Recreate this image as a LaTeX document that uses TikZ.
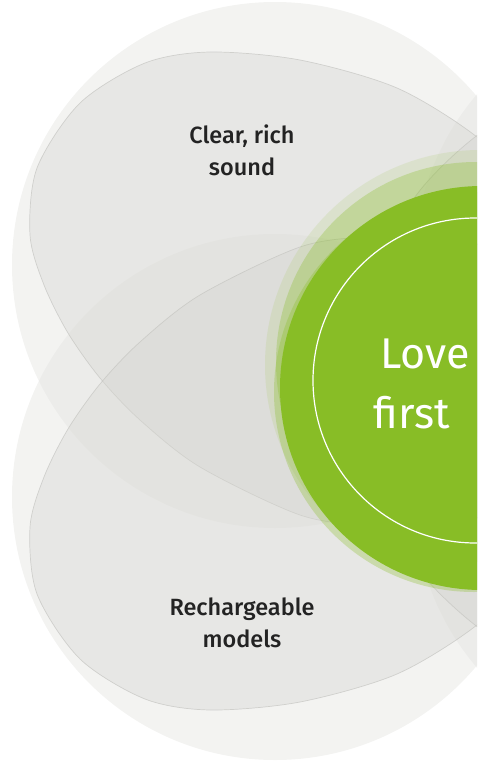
\documentclass[tikz,border=0pt]{standalone}
\usepackage{fontspec}
\setmainfont{Fira Sans}[BoldFont={Fira Sans Medium}]
\definecolor{halogrey}{RGB}{228,228,225}
\definecolor{petalgrey}{RGB}{214,214,210}
\definecolor{rimgrey}{RGB}{196,196,192}
\definecolor{leaf}{RGB}{136,189,38}
\definecolor{inkgrey}{RGB}{35,35,35}
\tikzset{
    % faint discs behind everything
    halo/.style={
        fill=halogrey,
        fill opacity=0.45,
        draw=none,
    },
    % leaf shaped petals
    petal/.style={
        fill=petalgrey,
        fill opacity=0.4,
        draw=rimgrey,
        draw opacity=0.7,
        line width=0.7pt,
    },
    % soft green discs round the hub
    glow/.style={
        fill=leaf,
        fill opacity=0.3,
        draw=none,
    },
    core/.style={
        fill=leaf,
        draw=none,
    },
    ring/.style={
        draw=white,
        line width=1.2pt,
    },
    petaltext/.style={
        text=inkgrey,
        font=\bfseries\fontsize{23.5}{32}\selectfont,
        align=center,
    },
    hubtext/.style={
        text=white,
        font=\fontsize{43}{60}\selectfont,
        anchor=base west,
    },
}
% outline of the upper left petal, tip under the hub
\newcommand{\petaloutline}{plot[smooth cycle] coordinates {
    (210,52) (300,60) (397,88) (477,137) (537,197) (578,280) (598,370)
    (595,450) (545,500) (450,522) (370,525) (300,515) (200,467) (140,420)
    (100,378) (68,333) (44,285) (30,235) (37,168) (80,103) (145,63)}}

\begin{document}
\begin{tikzpicture}[x=1pt, y=-1pt]
\useasboundingbox (0,0) rectangle (477,763);
\clip (0,0) rectangle (477,763);
% Define the hub
\coordinate (hub) at (476,381);
%HALO_BEGIN%
    \foreach \cx/\cy in {275/265, 275/497, 677/265, 677/497}
        \path[halo] (\cx,\cy) circle[radius=263pt];
%HALO_END%
%PETAL_BEGIN%
    % upper left
    \begin{scope}
        \path[petal] \petaloutline;
    \end{scope}
    % lower left
    \begin{scope}[shift={(0,762)}, yscale=-1]
        \path[petal] \petaloutline;
    \end{scope}
    % upper right
    \begin{scope}[shift={(952,0)}, xscale=-1]
        \path[petal] \petaloutline;
    \end{scope}
    % lower right
    \begin{scope}[shift={(952,762)}, scale=-1]
        \path[petal] \petaloutline;
    \end{scope}
%PETAL_END%
%HUB_BEGIN%
    \path[glow, fill opacity=0.12] ([shift={(4,-16)}]hub) circle[radius=215pt];
    \path[glow] ([shift={(0,-19)}]hub) circle[radius=200pt];
    \path[glow] ([shift={(-2,11)}]hub) circle[radius=200pt];
    \path[core] ([shift={(6,7)}]hub) circle[radius=202pt];
    \draw[ring] ([shift={(-0.5,-0.5)}]hub) circle[radius=162.5pt];
    \node[hubtext] (love) at (377,368) {Love};
    \node[hubtext] (first) at (370,428) {first};
%HUB_END%
%TEXT_BEGIN%
    \node[petaltext] (sound) at (242,150) {Clear, rich\\sound};
    \node[petaltext] (recharge) at (242,623) {Rechargeable\\models};
%TEXT_END%
\end{tikzpicture}
\end{document}
